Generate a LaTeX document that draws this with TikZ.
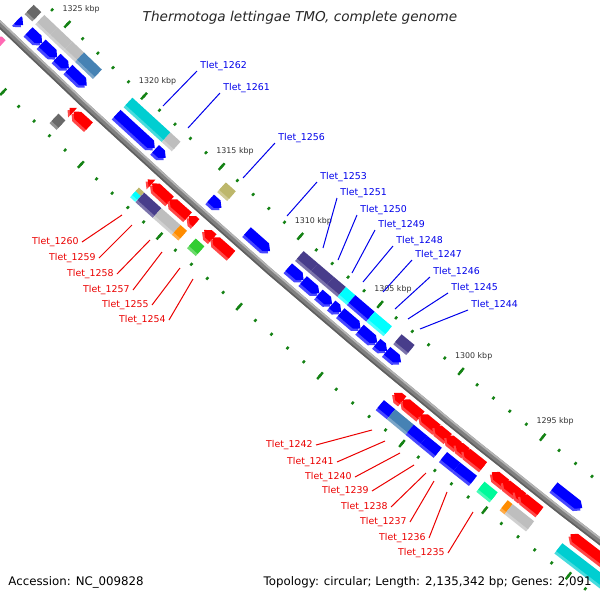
\documentclass[tikz,border=0pt]{standalone}
\usepackage{fontspec}
\setmainfont{DejaVu Sans}
\definecolor{gblue}{RGB}{0,0,255}
\definecolor{gred}{RGB}{255,0,0}
\definecolor{cgray}{RGB}{190,190,190}
\definecolor{cdgray}{RGB}{105,105,105}
\definecolor{csteel}{RGB}{70,130,180}
\definecolor{cteal}{RGB}{0,206,209}
\definecolor{caqua}{RGB}{0,255,255}
\definecolor{cpurple}{RGB}{72,61,139}
\definecolor{ckhaki}{RGB}{189,183,107}
\definecolor{corange}{RGB}{255,140,0}
\definecolor{clime}{RGB}{50,205,50}
\definecolor{cspring}{RGB}{0,250,154}
\definecolor{cpink}{RGB}{255,105,180}
\definecolor{tickgreen}{RGB}{20,130,20}
\definecolor{bbmain}{RGB}{128,128,128}
\definecolor{bblight}{RGB}{180,180,180}
\definecolor{bbdark}{RGB}{95,95,95}
\definecolor{labblue}{RGB}{0,0,235}
\definecolor{labred}{RGB}{235,0,0}
\definecolor{rultext}{RGB}{50,50,50}

\newcommand\Pt[2]{({133.52+((#1)-1325)*0.16859}:{7182.6+(#2)})}
% forward gene (blue track): #1 start (high s), #2 tip (low s)
\newcommand\fgene[3]{%
  \pgfmathsetmacro\hb{min(#1,#2+0.27)}%
  \fill[#3!72!white] \Pt{#1}{-17.5} -- \Pt{\hb}{-17.5} -- \Pt{#2}{-12.5} -- \Pt{\hb}{-7.5} -- \Pt{#1}{-7.5} -- cycle;
  \fill[#3] \Pt{#1}{-20.5} -- \Pt{\hb}{-20.5} -- \Pt{#2}{-15.5} -- \Pt{\hb}{-10.5} -- \Pt{#1}{-10.5} -- cycle;}
% reverse gene (red track): #1 tip (high s), #2 end (low s)
\newcommand\rgene[3]{%
  \pgfmathsetmacro\hb{max(#2,#1-0.27)}%
  \fill[#3!72!white] \Pt{#2}{10.5} -- \Pt{\hb}{10.5} -- \Pt{#1}{15.5} -- \Pt{\hb}{20.5} -- \Pt{#2}{20.5} -- cycle;
  \fill[#3] \Pt{#2}{7.5} -- \Pt{\hb}{7.5} -- \Pt{#1}{12.5} -- \Pt{\hb}{17.5} -- \Pt{#2}{17.5} -- cycle;}
% COG box: #1 s high, #2 s low, #3 inner edge, #4 colour
\newcommand\cbox[4]{%
  \fill[#4!72!white] \Pt{#1}{#3+3} -- \Pt{#2}{#3+3} -- \Pt{#2}{#3+13} -- \Pt{#1}{#3+13} -- cycle;
  \fill[#4] \Pt{#1}{#3} -- \Pt{#2}{#3} -- \Pt{#2}{#3+10} -- \Pt{#1}{#3+10} -- cycle;}

\tikzset{
  tk/.style={draw=tickgreen, line width=1.2pt},
  rulab/.style={text=rultext, font=\fontsize{3.95}{4.5}\selectfont, inner sep=0pt},
  blab/.style={text=labblue, font=\fontsize{4.7}{5.2}\selectfont, inner xsep=1.5pt, inner ysep=0pt, anchor=south west},
  rlab/.style={text=labred, font=\fontsize{4.7}{5.2}\selectfont, inner xsep=1.5pt, inner ysep=0pt, anchor=east},
  bline/.style={draw=labblue, line width=0.5pt},
  rline/.style={draw=labred, line width=0.5pt},
  foot/.style={text=black, font=\fontsize{5.9}{7}\selectfont, inner sep=0pt}
}

\begin{document}
\begin{tikzpicture}[x=0.5pt,y=-0.5pt]
\fill[white] (0,0) rectangle (600,600);
\useasboundingbox (0,0) rectangle (600,600);
\begin{scope}
\clip (0,0) rectangle (600,600);
\begin{scope}[shift={(4981,-5150)}]
% ruler ticks
\foreach \k in {1286,...,1330}{
  \draw[tk] \Pt{\k}{-48.1} -- \Pt{\k}{-45.1};
  \draw[tk] \Pt{\k}{45.1} -- \Pt{\k}{48.1};}
\foreach \k in {1290,1295,...,1330}{
  \draw[tk] \Pt{\k}{-51} -- \Pt{\k}{-42.2};
  \draw[tk] \Pt{\k}{42.2} -- \Pt{\k}{51};}
% backbone
\draw[bbmain, line width=3.3pt] plot[domain=1286:1330, samples=45] ({133.52+(\x-1325)*0.16859}:7182.6);
\draw[bblight, line width=0.9pt] plot[domain=1286:1330, samples=45] ({133.52+(\x-1325)*0.16859}:7180.2);
\draw[bbdark, line width=0.8pt] plot[domain=1286:1330, samples=45] ({133.52+(\x-1325)*0.16859}:7185.2);
% track +1 (blue genes)
\fgene{1326.85}{1326.5}{gblue}
\fgene{1326.1}{1325.25}{gblue}
\fgene{1325.25}{1324.27}{gblue}
\fgene{1324.27}{1323.5}{gblue}
\fgene{1323.5}{1322.33}{gblue}
\fgene{1320.37}{1317.95}{gblue}
\fgene{1317.9}{1317.25}{gblue}
\fgene{1314.39}{1313.7}{gblue}
\fgene{1312.05}{1310.62}{gblue}
\fgene{1309.45}{1308.52}{gblue}
\fgene{1308.52}{1307.54}{gblue}
\fgene{1307.54}{1306.74}{gblue}
\fgene{1306.74}{1306.17}{gblue}
\fgene{1306.17}{1304.97}{gblue}
\fgene{1304.97}{1303.93}{gblue}
\fgene{1303.93}{1303.33}{gblue}
\fgene{1303.33}{1302.47}{gblue}
\fgene{1293.12}{1291.44}{gblue}
% track +2 (COG)
\cbox{1326.8}{1326.3}{-37.5}{cdgray}
\cbox{1326.1}{1325.25}{-37.5}{cgray}
\cbox{1325.25}{1324.27}{-37.5}{cgray}
\cbox{1324.27}{1323.5}{-37.5}{cgray}
\cbox{1323.5}{1322.33}{-37.5}{csteel}
\cbox{1320.35}{1317.9}{-37.5}{cteal}
\cbox{1317.9}{1317.25}{-37.5}{cgray}
\cbox{1314.35}{1313.72}{-37.5}{ckhaki}
\cbox{1309.42}{1308.52}{-37.5}{cpurple}
\cbox{1308.52}{1307.54}{-37.5}{cpurple}
\cbox{1307.54}{1306.78}{-37.5}{cpurple}
\cbox{1306.78}{1306.18}{-37.5}{caqua}
\cbox{1306.18}{1304.97}{-37.5}{gblue}
\cbox{1304.97}{1303.9}{-37.5}{caqua}
\cbox{1303.3}{1302.5}{-37.5}{cpurple}
% track -1 (red genes)
\rgene{1327.1}{1326.6}{cpink}
\rgene{1322.2}{1321.95}{gred}
\rgene{1321.95}{1320.93}{gred}
\rgene{1317.2}{1316.92}{gred}
\rgene{1316.92}{1315.74}{gred}
\rgene{1315.8}{1314.61}{gred}
\rgene{1314.6}{1314.13}{gred}
\rgene{1313.62}{1313.05}{gred}
\rgene{1313.1}{1311.86}{gred}
\rgene{1301.8}{1301.25}{gred}
\rgene{1301.3}{1300.13}{gred}
\rgene{1300.2}{1299.15}{gred}
\rgene{1299.35}{1298.46}{gred}
\rgene{1298.62}{1297.85}{gred}
\rgene{1298.05}{1297.38}{gred}
\rgene{1297.58}{1296.33}{gred}
\rgene{1295.86}{1294.99}{gred}
\rgene{1295.2}{1294.27}{gred}
\rgene{1294.49}{1293.96}{gred}
\rgene{1294.16}{1292.92}{gred}
\rgene{1291.13}{1288}{gred}
% track -2 (COG)
\cbox{1322.4}{1321.95}{24.5}{cdgray}
\fill[caqua!72!white] \Pt{1317.25}{27.5} -- \Pt{1316.92}{27.5} -- \Pt{1316.92}{37.5} -- \Pt{1317.25}{37.5} -- cycle;
\fill[ckhaki] \Pt{1317.25}{24.5} -- \Pt{1316.92}{24.5} -- \Pt{1316.92}{29.5} -- \Pt{1317.25}{29.5} -- cycle;
\fill[caqua] \Pt{1317.25}{29.5} -- \Pt{1316.92}{29.5} -- \Pt{1316.92}{34.5} -- \Pt{1317.25}{34.5} -- cycle;
\cbox{1316.9}{1315.8}{24.5}{cpurple}
\cbox{1315.8}{1314.61}{24.5}{cgray}
\cbox{1314.61}{1314.2}{24.5}{corange}
\cbox{1313.65}{1313.1}{24.5}{clime}
\cbox{1301.95}{1301.27}{24.5}{gblue}
\cbox{1301.27}{1300.13}{24.5}{csteel}
\cbox{1300.13}{1299.3}{24.5}{gblue}
\cbox{1299.3}{1298.42}{24.5}{gblue}
\cbox{1298.1}{1297.3}{24.5}{gblue}
\cbox{1297.3}{1296.3}{24.5}{gblue}
\cbox{1295.85}{1295.05}{24.5}{cspring}
\cbox{1294.45}{1294.15}{24.5}{corange}
\cbox{1294.15}{1292.86}{24.5}{cgray}
\cbox{1291.17}{1288}{24.5}{cteal}
% ruler labels
\node[rulab] (k1325) at \Pt{1325}{-66.6} {1325 kbp};
\node[rulab] (k1320) at \Pt{1320}{-66.6} {1320 kbp};
\node[rulab] (k1315) at \Pt{1315}{-66.6} {1315 kbp};
\node[rulab] (k1310) at \Pt{1310}{-66.6} {1310 kbp};
\node[rulab] (k1305) at \Pt{1305}{-66.6} {1305 kbp};
\node[rulab] (k1300) at \Pt{1300}{-66.6} {1300 kbp};
\node[rulab] (k1295) at \Pt{1295}{-66.6} {1295 kbp};
\end{scope}
\end{scope}
% blue labels
\coordinate (a1262) at (163,106); \node[blab] (t1262) at (197,71) {Tlet\_1262}; \draw[bline] (a1262) -- (t1262.south west);
\coordinate (a1261) at (188,128); \node[blab] (t1261) at (220,93) {Tlet\_1261}; \draw[bline] (a1261) -- (t1261.south west);
\coordinate (a1256) at (243,178); \node[blab] (t1256) at (275,143) {Tlet\_1256}; \draw[bline] (a1256) -- (t1256.south west);
\coordinate (a1253) at (287,216); \node[blab] (t1253) at (317,182) {Tlet\_1253}; \draw[bline] (a1253) -- (t1253.south west);
\coordinate (a1251) at (323,248); \node[blab] (t1251) at (337,198) {Tlet\_1251}; \draw[bline] (a1251) -- (t1251.south west);
\coordinate (a1250) at (338,260); \node[blab] (t1250) at (357,215) {Tlet\_1250}; \draw[bline] (a1250) -- (t1250.south west);
\coordinate (a1249) at (352,273); \node[blab] (t1249) at (375,230) {Tlet\_1249}; \draw[bline] (a1249) -- (t1249.south west);
\coordinate (a1248) at (363,282); \node[blab] (t1248) at (393,246) {Tlet\_1248}; \draw[bline] (a1248) -- (t1248.south west);
\coordinate (a1247) at (383,292); \node[blab] (t1247) at (412,260) {Tlet\_1247}; \draw[bline] (a1247) -- (t1247.south west);
\coordinate (a1246) at (395,309); \node[blab] (t1246) at (430,277) {Tlet\_1246}; \draw[bline] (a1246) -- (t1246.south west);
\coordinate (a1245) at (408,319); \node[blab] (t1245) at (448,293) {Tlet\_1245}; \draw[bline] (a1245) -- (t1245.south west);
\coordinate (a1244) at (420,329); \node[blab] (t1244) at (468,310) {Tlet\_1244}; \draw[bline] (a1244) -- (t1244.south west);
% red labels
\coordinate (a1260) at (122,215); \node[rlab] (t1260) at (82,242) {Tlet\_1260}; \draw[rline] (a1260) -- (t1260.east);
\coordinate (a1259) at (132,225); \node[rlab] (t1259) at (99,258) {Tlet\_1259}; \draw[rline] (a1259) -- (t1259.east);
\coordinate (a1258) at (150,240); \node[rlab] (t1258) at (117,274) {Tlet\_1258}; \draw[rline] (a1258) -- (t1258.east);
\coordinate (a1257) at (162,252); \node[rlab] (t1257) at (133,290) {Tlet\_1257}; \draw[rline] (a1257) -- (t1257.east);
\coordinate (a1255) at (180,268); \node[rlab] (t1255) at (152,305) {Tlet\_1255}; \draw[rline] (a1255) -- (t1255.east);
\coordinate (a1254) at (193,279); \node[rlab] (t1254) at (169,320) {Tlet\_1254}; \draw[rline] (a1254) -- (t1254.east);
\coordinate (a1242) at (372,430); \node[rlab] (t1242) at (316,445) {Tlet\_1242}; \draw[rline] (a1242) -- (t1242.east);
\coordinate (a1241) at (385,441); \node[rlab] (t1241) at (337,462) {Tlet\_1241}; \draw[rline] (a1241) -- (t1241.east);
\coordinate (a1240) at (400,453); \node[rlab] (t1240) at (355,477) {Tlet\_1240}; \draw[rline] (a1240) -- (t1240.east);
\coordinate (a1239) at (414,465); \node[rlab] (t1239) at (372,491) {Tlet\_1239}; \draw[rline] (a1239) -- (t1239.east);
\coordinate (a1238) at (426,473); \node[rlab] (t1238) at (391,507) {Tlet\_1238}; \draw[rline] (a1238) -- (t1238.east);
\coordinate (a1237) at (434,481); \node[rlab] (t1237) at (410,522) {Tlet\_1237}; \draw[rline] (a1237) -- (t1237.east);
\coordinate (a1236) at (447,492); \node[rlab] (t1236) at (429,538) {Tlet\_1236}; \draw[rline] (a1236) -- (t1236.east);
\coordinate (a1235) at (473,512); \node[rlab] (t1235) at (448,553) {Tlet\_1235}; \draw[rline] (a1235) -- (t1235.east);
% title and footer
\node[text=black!85, font=\fontsize{6.8}{8}\selectfont\itshape, inner sep=0pt] (title) at (300,18) {Thermotoga lettingae TMO, complete genome};
\node[foot, anchor=west] (acc) at (8,582) {Accession: NC\_009828};
\node[foot, anchor=east] (topo) at (592,582) {Topology: circular; Length: 2,135,342 bp; Genes: 2,091};
\end{tikzpicture}
\end{document}
